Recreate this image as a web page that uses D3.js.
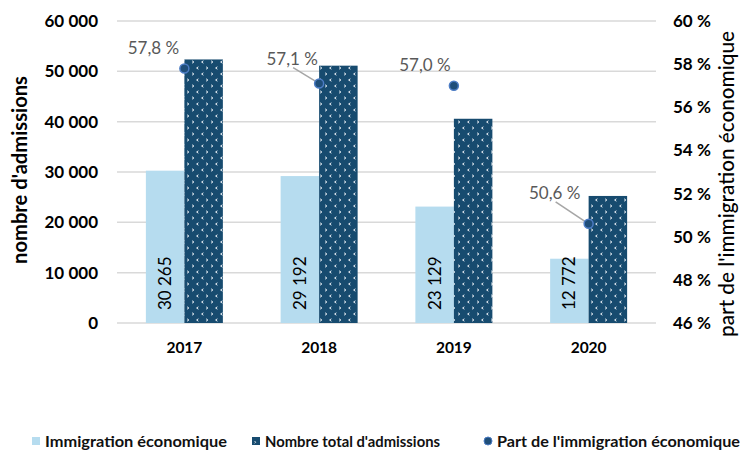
<!DOCTYPE html>
<html><head><meta charset="utf-8">
<script src="https://cdn.jsdelivr.net/npm/d3@7"></script>
<style>
html,body{margin:0;padding:0;background:#fff;}
svg{display:block;font-family:Lato,"Open Sans",sans-serif;}
</style></head>
<body>
<svg id="chart" width="741" height="450"></svg>
<script>
const years = ["2017","2018","2019","2020"];
const economique = [30265, 29192, 23129, 12772];
const totalAdmissions = [52362, 51124, 40577, 25241];
const partEconomique = [57.8, 57.1, 57.0, 50.6];
const leftTicks = [0,10000,20000,30000,40000,50000,60000];
const rightTicks = [46,48,50,52,54,56,58,60];
const seriesNames = ["Immigration économique","Nombre total d'admissions","Part de l'immigration économique"];

const LIGHT = "#b6dcef", DARK = "#174b6f", DOT = "#1f4e79", DOTSTROKE = "#4c7cc4";
const svg = d3.select("#chart");

function fit(sel, w){
  const n = sel.node(); const fs = parseFloat(sel.attr("font-size"));
  const cur = n.getComputedTextLength();
  if (cur > 0) sel.attr("font-size", fs * w / cur);
  return sel;
}

// pattern
const defs = svg.append("defs");
const pat = defs.append("pattern").attr("id","dots").attr("patternUnits","userSpaceOnUse")
  .attr("width",19).attr("height",12).attr("x",0).attr("y",0);
pat.append("rect").attr("width",19).attr("height",12).attr("fill",DARK);
const chev = [[3,2,1],[12.5,2,-1],[7.5,8,-1],[17,8,1]];
chev.forEach(([cx,cy,dir])=>{
  pat.append("path").attr("d",`M${cx-dir*0.9},${cy-1.2}L${cx+dir*0.9},${cy}L${cx-dir*0.9},${cy+1.2}`)
    .attr("fill","none").attr("stroke","#e8eef4").attr("stroke-width",1);
});

const L = 117, R = 656, T = 21, B = 323;
const x = d3.scaleBand().domain(years).range([L,R]).paddingInner(0.4286).paddingOuter(0.2143);
const sub = d3.scaleBand().domain([0,1]).range([0,x.bandwidth()]);
const y = d3.scaleLinear().domain([0,60000]).range([B,T]);
const y2 = d3.scaleLinear().domain([46,60]).range([B,T]);
const fmt = v => d3.format(",")(v).replace(/,/g,"\u202f");

// gridlines
svg.append("g").selectAll("line").data(leftTicks).join("line")
  .attr("x1",L).attr("x2",R).attr("y1",d=>y(d)).attr("y2",d=>y(d))
  .attr("stroke","#d9d9d9").attr("stroke-width",1.5);

// left axis
const ya = svg.append("g").attr("transform",`translate(${L-19},0)`)
  .call(d3.axisLeft(y).tickValues(leftTicks).tickSize(0).tickPadding(0).tickFormat(fmt));
ya.select(".domain").remove();
ya.selectAll("text").attr("font-size",17).attr("font-weight","bold").attr("fill","#000").attr("font-family","Lato");

// right axis
const ya2 = svg.append("g").attr("transform",`translate(${673},0)`)
  .call(d3.axisRight(y2).tickValues(rightTicks).tickSize(0).tickPadding(0).tickFormat(d=>d+"\u202f%"));
ya2.select(".domain").remove();
ya2.selectAll("text").attr("font-size",17).attr("font-weight","bold").attr("fill","#000").attr("font-family","Lato");

// x axis
const xa = svg.append("g").attr("transform",`translate(0,${B})`)
  .call(d3.axisBottom(x).tickSize(0).tickPadding(19));
xa.select(".domain").remove();
xa.selectAll("text").attr("font-size",15.5).attr("font-weight","bold").attr("fill","#000").attr("font-family","Lato");

// bars
const rows = years.map((yr,i)=>({yr, e:economique[i], t:totalAdmissions[i], p:partEconomique[i], i}));
svg.append("g").selectAll("rect").data(rows).join("rect")
  .attr("x",d=>x(d.yr)+sub(0)).attr("width",sub.bandwidth())
  .attr("y",d=>y(d.e)).attr("height",d=>B-y(d.e)).attr("fill",LIGHT);
svg.append("g").selectAll("rect").data(rows).join("rect")
  .attr("x",d=>x(d.yr)+sub(1)).attr("width",sub.bandwidth())
  .attr("y",d=>y(d.t)).attr("height",d=>B-y(d.t)).attr("fill","url(#dots)");

// bar labels
svg.append("g").selectAll("text").data(rows).join("text")
  .attr("transform",d=>`translate(${x(d.yr)+sub(0)+sub.bandwidth()/2+6},${B-13}) rotate(-90)`)
  .attr("text-anchor","start").attr("font-size",17).attr("fill","#000").text(d=>fmt(d.e));

// leader lines and point labels
const lblOff = [[-31,-21,false],[-27,-25,true],[-29,-21,false],[-34,-31,true]];
const cx = d => x(d.yr)+x.bandwidth()/2;
svg.append("g").selectAll("line").data(rows.filter(d=>lblOff[d.i][2])).join("line")
  .attr("x1",d=>cx(d)+lblOff[d.i][0]+1).attr("y1",d=>y2(d.p)+lblOff[d.i][1]+9)
  .attr("x2",d=>cx(d)-3).attr("y2",d=>y2(d.p)-2)
  .attr("stroke","#a6a6a6").attr("stroke-width",1.5);
svg.append("g").selectAll("text").data(rows).join("text")
  .attr("x",d=>cx(d)+lblOff[d.i][0]).attr("y",d=>y2(d.p)+lblOff[d.i][1])
  .attr("text-anchor","middle").attr("dominant-baseline","central")
  .attr("font-size",17).attr("fill","#595959")
  .text(d=>d3.format(".1f")(d.p).replace(".",",")+"\u202f%");

// points
svg.append("g").selectAll("circle").data(rows).join("circle")
  .attr("cx",cx).attr("cy",d=>y2(d.p)).attr("r",4.5)
  .attr("fill",DOT).attr("stroke",DOTSTROKE).attr("stroke-width",1.5);

// axis titles
fit(svg.append("text").attr("transform",`translate(26.5,170) rotate(-90)`)
  .attr("text-anchor","middle").attr("font-size",18).attr("font-weight","bold").attr("fill","#000")
  .text("nombre d'admissions"), 188);
fit(svg.append("text").attr("transform",`translate(733.5,184) rotate(-90)`)
  .attr("text-anchor","middle").attr("font-size",19).attr("font-weight","500").attr("fill","#000")
  .text("part de l'immigration économique"), 306);

// legend
const lg = svg.append("g");
const ly = 441;
const legendItems = [
  {x:45, w:182, name:seriesNames[0]},
  {x:265, w:175, name:seriesNames[1]},
  {x:497, w:243, name:seriesNames[2]}
];
lg.append("rect").attr("x",32).attr("y",ly-4).attr("width",8).attr("height",8).attr("fill",LIGHT);
lg.append("rect").attr("x",252).attr("y",ly-4).attr("width",8).attr("height",8).attr("fill",DARK);
lg.append("path").attr("d",`M254.5,${ly}l1.2,1.2l-1.2,1.2`).attr("stroke","#fff").attr("fill","none").attr("stroke-width",0.8);
lg.append("circle").attr("cx",488).attr("cy",ly).attr("r",4).attr("fill",DOT).attr("stroke",DOTSTROKE).attr("stroke-width",1);
lg.selectAll("text.lt").data(legendItems).join("text").attr("class","lt")
  .attr("x",d=>d.x).attr("y",ly).attr("dominant-baseline","central")
  .attr("font-size",15).attr("font-weight","bold").attr("fill","#111")
  .attr("textLength",d=>d.w).attr("lengthAdjust","spacingAndGlyphs")
  .text(d=>d.name);
</script>
</body></html>
